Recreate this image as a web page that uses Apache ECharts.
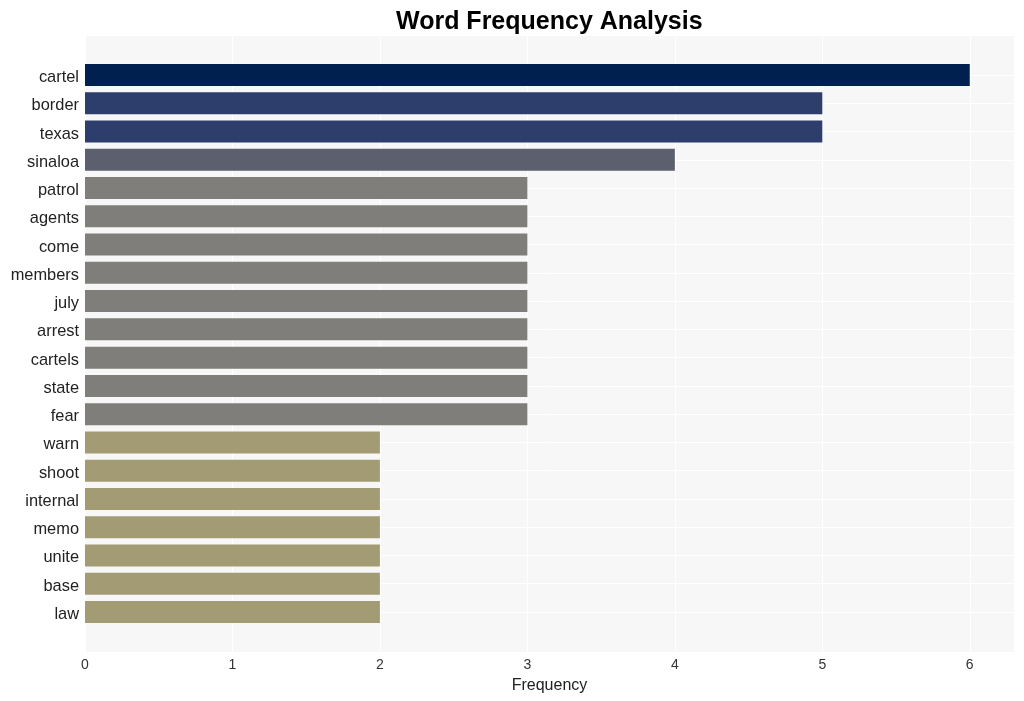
<!DOCTYPE html>
<html>
<head>
<meta charset="utf-8">
<script src="https://cdn.jsdelivr.net/npm/echarts@6/dist/echarts.min.js"></script>
<style>html,body{margin:0;padding:0;background:#fff}#c{width:1024px;height:701px}</style>
</head>
<body>
<div id="c"></div>
<script>
const categories = ['cartel','border','texas','sinaloa','patrol','agents','come','members','july','arrest','cartels','state','fear','warn','shoot','internal','memo','unite','base','law'];
const values = [6,5,5,4,3,3,3,3,3,3,3,3,3,2,2,2,2,2,2,2];
const xTicks = [0,1,2,3,4,5,6];
const colorByValue = {6:'#00204f',5:'#2d3e6d',4:'#5b5f6e',3:'#7f7e7a',2:'#a39b74'};

const chart = echarts.init(document.getElementById('c'), null, {renderer:'canvas'});
const font = 'Liberation Sans, Arial, sans-serif';
chart.setOption({
  animation:false,
  title:{text:'Word Frequency Analysis', left:391, top:5,
    textStyle:{fontFamily:font, fontSize:25, fontWeight:'bold', color:'#000'}},
  grid:[
    {left:85, right:10, top:60.9, bottom:74.9, containLabel:false},
    {left:85, right:10, top:36, bottom:49, containLabel:false, show:true, backgroundColor:'#f7f7f7', borderWidth:0}
  ],
  xAxis:[
    {gridIndex:0, type:'value', min:0, max:6.3, show:false, splitLine:{show:false}},
    {gridIndex:1, type:'value', min:0, max:6.3, interval:1,
      name:'Frequency', nameLocation:'middle', nameGap:26,
      nameTextStyle:{fontFamily:font, fontSize:16, color:'#222'},
      axisLine:{show:false}, axisTick:{show:false},
      axisLabel:{fontFamily:font, fontSize:14, color:'#333', margin:6,
        formatter:function(v){return xTicks.indexOf(v)>=0 ? String(v) : '';}},
      splitLine:{show:true, lineStyle:{color:'#ffffff', width:1}}}
  ],
  yAxis:[
    {gridIndex:0, type:'category', data:categories, inverse:true,
      axisLine:{show:false}, axisTick:{show:false, alignWithLabel:true},
      axisLabel:{margin:6, formatter:function(v){return '{a|'+v+'}';},
        rich:{a:{fontFamily:font, fontSize:16.4, color:'#222', padding:[5,0,0,0]}}},
      splitLine:{show:true, alignWithLabel:true, lineStyle:{color:'#ffffff', width:1}}},
    {gridIndex:1, type:'value', show:false, splitLine:{show:false}}
  ],
  series:[{
    type:'bar', xAxisIndex:0, yAxisIndex:0, barWidth:22,
    data: values.map(v=>({value:v, itemStyle:{color:colorByValue[v]}}))
  }]
});
</script>
</body>
</html>
